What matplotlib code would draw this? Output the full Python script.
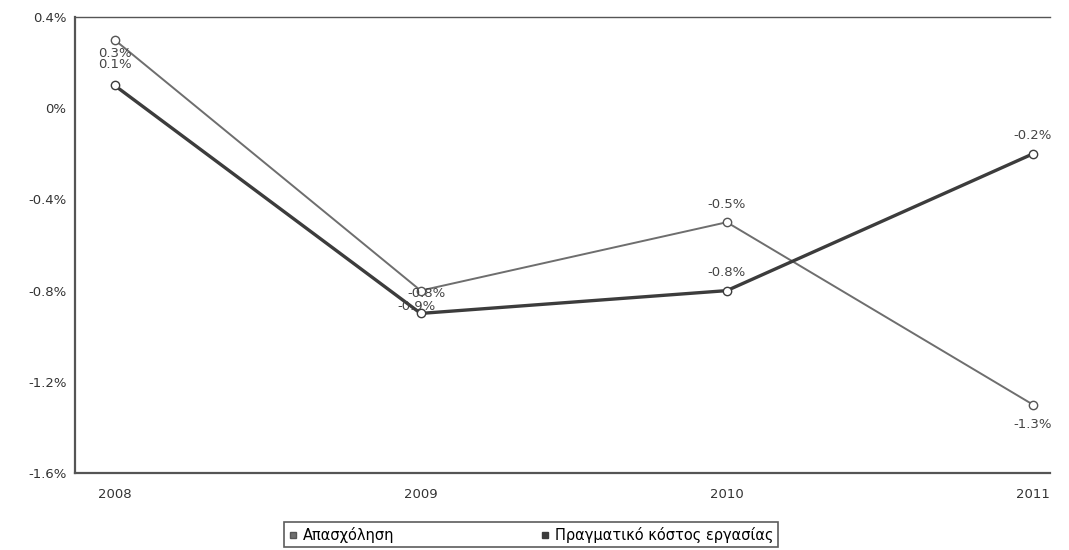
import matplotlib.pyplot as plt
from matplotlib.ticker import FuncFormatter

years = [2008, 2009, 2010, 2011]
employment = [0.3, -0.8, -0.5, -1.3]
labour_cost = [0.1, -0.9, -0.8, -0.2]
series_names = ["Απασχόληση", "Πραγματικό κόστος εργασίας"]
y_ticks = [0.4, 0.0, -0.4, -0.8, -1.2, -1.6]

fig = plt.figure(figsize=(10.69, 5.5), dpi=100)
ax = fig.add_axes([0.070, 0.14, 0.912, 0.829])

ax.plot(years, employment, color="#6e6e6e", lw=1.4, marker="o", ms=6,
        mfc="white", mec="#555555", mew=1.0, label=series_names[0], zorder=3)
ax.plot(years, labour_cost, color="#3c3c3c", lw=2.4, marker="o", ms=6,
        mfc="white", mec="#3c3c3c", mew=1.0, label=series_names[1], zorder=4)

# value labels, offsets in points (x, y; positive y = above)
emp_off = [(0, -10), (4, -2), (0, 13), (0, -14)]
cost_off = [(0, 15), (-3, 5), (0, 13), (0, 13)]
for x, v, o in zip(years, employment, emp_off):
    ax.annotate(f"{v:.1f}%", (x, v), xytext=o, textcoords="offset points",
                ha="center", va="center", fontsize=9.5, color="#444444", zorder=5)
for x, v, o in zip(years, labour_cost, cost_off):
    ax.annotate(f"{v:.1f}%", (x, v), xytext=o, textcoords="offset points",
                ha="center", va="center", fontsize=9.5, color="#444444", zorder=5)

ax.set_xlim(2007.87, 2011.055)
ax.set_ylim(-1.6, 0.4)
ax.set_xticks(years)
ax.set_yticks(y_ticks)
ax.yaxis.set_major_formatter(FuncFormatter(lambda v, _: "0%" if abs(v) < 1e-9 else f"{v:.1f}%"))
ax.tick_params(axis="y", length=0, labelsize=9.5, colors="#333333", pad=6)
ax.tick_params(axis="x", length=0, labelsize=9.5, colors="#333333", pad=11)

for side in ["left", "bottom", "top"]:
    ax.spines[side].set_color("#555555")
    ax.spines[side].set_linewidth(1.6)
ax.spines["top"].set_linewidth(1.0)
ax.spines["right"].set_visible(False)

leg = fig.legend(loc="lower center", bbox_to_anchor=(0.497, -0.008), ncol=2,
                 fontsize=10.5, frameon=True, fancybox=False, edgecolor="#333333",
                 handlelength=0.6, handletextpad=0.4, columnspacing=10,
                 borderpad=0.3)
leg.get_frame().set_linewidth(1.2)
for h in leg.legend_handles:
    h.set_linestyle("none")
    h.set_marker("s")
    h.set_markersize(5)
    h.set_markerfacecolor(h.get_color())

fig.savefig("out.png", dpi=100)
